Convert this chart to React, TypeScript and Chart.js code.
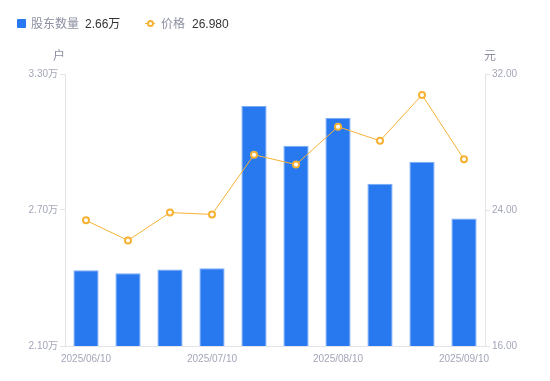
import React, { useEffect, useRef } from "react";
import { Chart, registerables } from "chart.js";

Chart.register(...registerables);

const categories = [
  "2025/06/10", "2025/06/20", "2025/06/30", "2025/07/10", "2025/07/20",
  "2025/07/31", "2025/08/10", "2025/08/20", "2025/08/31", "2025/09/10",
];
const holders = [2.434, 2.421, 2.438, 2.443, 3.159, 2.984, 3.107, 2.816, 2.913, 2.663];
const prices = [23.39, 22.21, 23.85, 23.74, 27.25, 26.67, 28.9, 28.07, 30.77, 26.98];
const leftTicks = [2.1, 2.7, 3.3];
const rightTicks = [16, 24, 32];
const shownLabelIdx = [0, 3, 6, 9];

const FONT = "'Helvetica Neue', Arial, 'Liberation Sans', 'Noto Sans CJK SC', sans-serif";
const BLUE = "#2878f0";
const ORANGE = "#f7b236";
const TICK_COLOR = "#a3a6b8";
const AXIS_COLOR = "#e3e4e8";

const unitPlugin = {
  id: "units",
  afterDraw(chart: any) {
    const { ctx, chartArea } = chart;
    ctx.save();
    ctx.font = `12px ${FONT}`;
    ctx.fillStyle = "#8c8fa0";
    ctx.textAlign = "center";
    ctx.textBaseline = "middle";
    ctx.fillText("户", chartArea.left - 6, 57);
    ctx.fillText("元", chartArea.right + 5, 57);
    ctx.restore();
  },
};

export default function App() {
  const ref = useRef<HTMLCanvasElement | null>(null);
  useEffect(() => {
    if (!ref.current) return;
    const chart = new Chart(ref.current, {
      type: "bar",
      data: {
        labels: categories,
        datasets: [
          {
            type: "line",
            label: "价格",
            data: prices,
            yAxisID: "y1",
            borderColor: ORANGE,
            borderWidth: 1,
            pointRadius: 3,
            pointBorderWidth: 2,
            pointBackgroundColor: "#ffffff",
            pointBorderColor: ORANGE,
            tension: 0,
            order: 0,
          } as any,
          {
            type: "bar",
            label: "股东数量",
            data: holders,
            yAxisID: "y",
            backgroundColor: BLUE,
            borderColor: "#7aabf7",
            borderWidth: 1,
            barPercentage: 0.6,
            categoryPercentage: 1,
            order: 1,
          } as any,
        ],
      },
      options: {
        animation: false,
        responsive: false,
        maintainAspectRatio: false,
        layout: { padding: { top: 74, left: 0, right: 0, bottom: 0 } },
        plugins: { legend: { display: false }, tooltip: { enabled: false } },
        scales: {
          x: {
            grid: { display: false, drawTicks: false },
            border: { display: true, color: AXIS_COLOR },
            ticks: {
              autoSkip: false,
              maxRotation: 0,
              padding: 7,
              color: TICK_COLOR,
              font: { size: 10, family: FONT },
              callback: (_v: any, i: number) => (shownLabelIdx.includes(i) ? categories[i] : ""),
            },
            afterFit: (s: any) => { s.height = 35; },
          },
          y: {
            position: "left",
            min: leftTicks[0],
            max: leftTicks[leftTicks.length - 1],
            grid: { drawOnChartArea: false, tickLength: 5, color: AXIS_COLOR },
            border: { display: true, color: AXIS_COLOR },
            ticks: {
              padding: 2,
              color: TICK_COLOR,
              font: { size: 10, family: FONT },
              callback: (v: any) => Number(v).toFixed(2) + "万",
            },
            afterBuildTicks: (s: any) => { s.ticks = leftTicks.map((v) => ({ value: v })); },
            afterFit: (s: any) => { s.width = 65; },
          },
          y1: {
            position: "right",
            min: rightTicks[0],
            max: rightTicks[rightTicks.length - 1],
            grid: { drawOnChartArea: false, tickLength: 5, color: AXIS_COLOR },
            border: { display: true, color: AXIS_COLOR },
            ticks: {
              padding: 2,
              color: TICK_COLOR,
              font: { size: 10, family: FONT },
              callback: (v: any) => Number(v).toFixed(2),
            },
            afterBuildTicks: (s: any) => { s.ticks = rightTicks.map((v) => ({ value: v })); },
            afterFit: (s: any) => { s.width = 65; },
          },
        },
      } as any,
      plugins: [unitPlugin],
    });
    return () => chart.destroy();
  }, []);

  const legendText: React.CSSProperties = { fontFamily: FONT, fontSize: 12, position: "absolute", top: 16, lineHeight: "16px", whiteSpace: "nowrap" };
  return (
    <div style={{ position: "fixed", left: 0, top: 0, width: 550, height: 381, background: "#fff" }}>
      <canvas ref={ref} width={550} height={381} style={{ position: "absolute", left: 0, top: 0, width: 550, height: 381 }} />
      <div style={{ position: "absolute", left: 17, top: 19, width: 9, height: 9, background: BLUE, borderRadius: 1 }} />
      <div style={{ ...legendText, left: 31, color: "#8c8fa0" }}>股东数量</div>
      <div style={{ ...legendText, left: 85, color: "#333" }}>2.66万</div>
      <div style={{ position: "absolute", left: 145, top: 23, width: 10, height: 1, background: ORANGE }} />
      <div style={{ position: "absolute", left: 147, top: 20, width: 3, height: 3, border: `2px solid ${ORANGE}`, borderRadius: "50%", background: "#fff" }} />
      <div style={{ ...legendText, left: 161, color: "#8c8fa0" }}>价格</div>
      <div style={{ ...legendText, left: 192, color: "#333" }}>26.980</div>
    </div>
  );
}
